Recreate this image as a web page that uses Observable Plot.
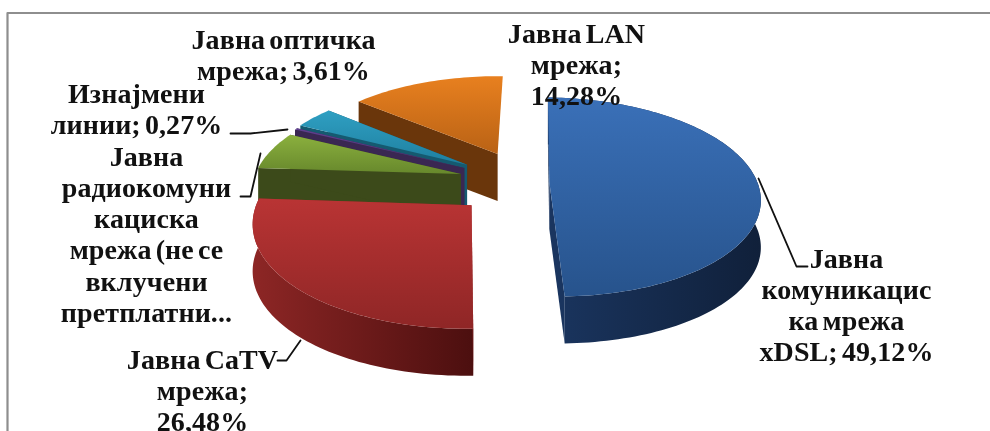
<!DOCTYPE html>
<html><head><meta charset="utf-8">
<script src="https://cdn.jsdelivr.net/npm/d3@7"></script>
<script src="https://cdn.jsdelivr.net/npm/@observablehq/plot@0.6"></script>
<style>html,body{margin:0;padding:0;background:#fff;overflow:hidden}</style>
</head><body><div id="chart"></div>
<script>
const categories = ["xDSL","CaTV","Radio","Leased","Optical","LAN"];
const shares = [49.12,26.48,6.24,0.27,3.61,14.28];
const labels = [
 "Јавна\nкомуникацис\nка мрежа\nxDSL; 49,12%",
 "Јавна CaTV\nмрежа;\n26,48%",
 "Јавна\nрадиокомуни\nкациска\nмрежа (не се\nвклучени\nпретплатни...",
 "Изнајмени\nлинии; 0,27%",
 "Јавна оптичка\nмрежа; 3,61%",
 "Јавна LAN\nмрежа;\n14,28%"];
const labelX = [846,202,146,136,283,576];
const labelY = [245,346,143,80,26,20];
const leaders = [
 [[758,178],[796,266],[807,266]],
 [[300,340],[286,360],[277,360]],
 [[260,153],[250,196],[240,196]],
 [[287,129],[250,133],[230,133]]];
const topColors = [["#3a70b8","#27538c"],["#b93434","#8f2626"],["#8bb03e","#67882c"],["#604090","#4a2f70"],["#2f9fc2","#1e7f9f"],["#e8801f","#b96215"]];
const wallColors = [["#1a355f","#10203a"],["#8d2625","#4c0f0f"],["#3c4a1a","#374516"],["#3a2752","#321f48"],["#155a70","#124d60"],["#6a360b","#5c2e08"]];
const explodeX = [0.225,0.2,0.21,0.21,0.21,0.06];

// pie geometry
const vx=502, vy=181.6, rx=208, ry=97.3, persp=0.15, depth=47, exZ=0.33, start=1.5*Math.PI/180;
const arcs = d3.pie().sort(null).startAngle(start).endAngle(start+2*Math.PI)(shares);
function proj(a,r,mid,h,exX){
  const X=exX*Math.sin(mid)+r*Math.sin(a), Z=exZ*Math.cos(mid)+r*Math.cos(a), p=1/(1+persp*Z);
  return {x:vx+rx*X*p, y:vy-ry*Z*p+h*depth};
}
const marks=[];
const poly=(pts,fill)=>marks.push(Plot.line(pts,{x:"x",y:"y",fill,stroke:"none",curve:"linear"}));
const defs=document.createElementNS("http://www.w3.org/2000/svg","defs");
function grad(id,c,horizontal){
  const g=document.createElementNS(defs.namespaceURI,"linearGradient");
  g.setAttribute("id",id); g.setAttribute("x1","0");g.setAttribute("y1","0");
  g.setAttribute("x2",horizontal?"1":"0");g.setAttribute("y2",horizontal?"0":"1");
  c.forEach((col,i)=>{const s=document.createElementNS(defs.namespaceURI,"stop");s.setAttribute("offset",i);s.setAttribute("stop-color",col);g.appendChild(s);});
  defs.appendChild(g);
}
marks.push(()=>defs);
for(const i of [5,4,3,2,1,0]){
  const a=arcs[i], mid=(a.startAngle+a.endAngle)/2, n=Math.max(4,Math.ceil((a.endAngle-a.startAngle)*40)), e=explodeX[i];
  grad("t"+i,topColors[i],false); grad("w"+i,wallColors[i],true);
  const angs=d3.range(n+1).map(k=>a.startAngle+(a.endAngle-a.startAngle)*k/n);
  const rim=h=>angs.map(t=>proj(t,1,mid,h,e));
  const apex=h=>proj(0,0,mid,h,e);
  const radial=t=>[apex(0),proj(t,1,mid,0,e),proj(t,1,mid,1,e),apex(1),apex(0)];
  const backOnly=angs.every(t=>Math.cos(t)>0);
  if(!backOnly){
    const wall=[...rim(0),...rim(1).reverse()]; wall.push(wall[0]);
    poly(wall,`url(#w${i})`);
  }
  poly(radial(a.startAngle),wallColors[i][0]);
  if(i!==arcs.length-1) poly(radial(a.endAngle),wallColors[i][0]);
  const top=[apex(0),...rim(0),apex(0)];
  poly(top,`url(#t${i})`);
}
const border=[{x:7,y:431},{x:7,y:12.5},{x:990,y:12.5}];
const plot=Plot.plot({
  width:990,height:431,margin:0,
  x:{domain:[0,990],range:[0,990],axis:null},
  y:{domain:[0,431],range:[0,431],axis:null},
  marks:[
    Plot.line(border,{x:"x",y:"y",stroke:"#8e8e8e",strokeWidth:2.2}),
    ...marks,
    ...leaders.map(l=>Plot.line(l.map(([x,y])=>({x,y})),{x:"x",y:"y",stroke:"#111",strokeWidth:1.8,curve:"linear"})),
    Plot.text(labels,{x:(d,i)=>labelX[i],y:(d,i)=>labelY[i],text:d=>d,textAnchor:"middle",lineAnchor:"top",
      lineHeight:1.115,fontSize:28,fontWeight:"bold",fontFamily:"Liberation Serif",fill:"#111",
      render(index,scales,values,dims,ctx,next){const g=next(index,scales,values,dims,ctx);g.style.letterSpacing="0.1px";g.style.wordSpacing="-3px";return g;}})
  ],
  style:{background:"#fff",overflow:"hidden"}
});
plot.style.filter="blur(0.5px)";
document.getElementById("chart").appendChild(plot);
</script></body></html>
